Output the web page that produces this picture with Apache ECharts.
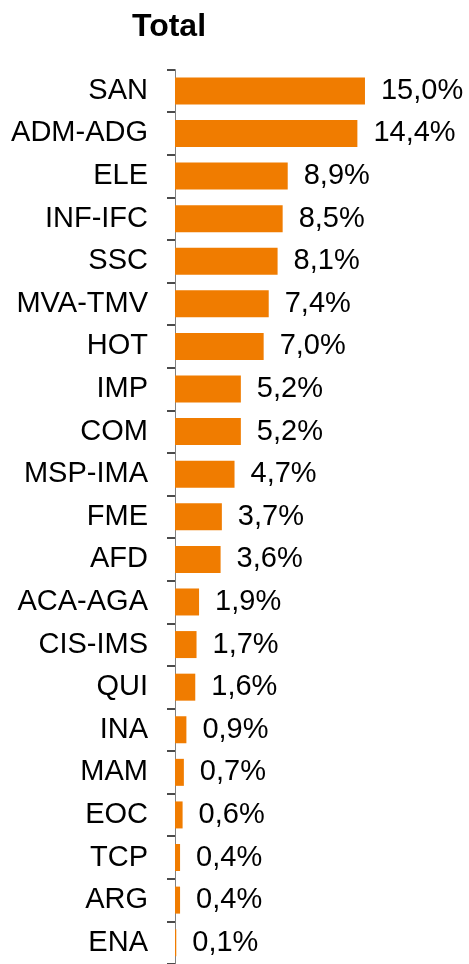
<!DOCTYPE html>
<html>
<head>
<meta charset="utf-8">
<script src="https://cdn.jsdelivr.net/npm/echarts@6/dist/echarts.min.js"></script>
<style>
  html, body { margin: 0; padding: 0; background: #fff; }
  #chart { width: 469px; height: 964px; }
</style>
</head>
<body>
<div id="chart"></div>
<script>
// categories, top to bottom
var categories = ['SAN', 'ADM-ADG', 'ELE', 'INF-IFC', 'SSC', 'MVA-TMV', 'HOT', 'IMP', 'COM', 'MSP-IMA',
  'FME', 'AFD', 'ACA-AGA', 'CIS-IMS', 'QUI', 'INA', 'MAM', 'EOC', 'TCP', 'ARG', 'ENA'];
// share in percent
var values = [15.0, 14.4, 8.9, 8.5, 8.1, 7.4, 7.0, 5.2, 5.2, 4.7,
  3.7, 3.6, 1.9, 1.7, 1.6, 0.9, 0.7, 0.6, 0.4, 0.4, 0.1];

var font = 'Liberation Sans, Arial, sans-serif';
var myChart = echarts.init(document.getElementById('chart'));

myChart.setOption({
  animation: false,
  title: {
    text: 'Total',
    left: 164,
    top: 6,
    textAlign: 'center',
    textStyle: { fontFamily: font, fontSize: 32, fontWeight: 'bold', color: '#000' }
  },
  grid: { left: 175, top: 69.6, width: 253.3, height: 897.75 },
  xAxis: {
    type: 'value',
    min: 0,
    max: 20,
    show: false
  },
  yAxis: {
    type: 'category',
    data: categories,
    inverse: true,
    axisLine: { show: true, lineStyle: { color: '#808080', width: 1 } },
    axisTick: { show: true, inside: false, interval: 0, length: 8, lineStyle: { color: '#111111', width: 1.5 } },
    axisLabel: { margin: 27, interval: 0, fontFamily: font, fontSize: 29, color: '#000' }
  },
  series: [{
    type: 'bar',
    data: values,
    barWidth: 27,
    itemStyle: { color: '#F07C00' },
    label: {
      show: true,
      position: 'right',
      distance: 16,
      fontFamily: font,
      fontSize: 29,
      color: '#000',
      formatter: function (p) { return p.value.toFixed(1).replace('.', ',') + '%'; }
    }
  }]
});
</script>
</body>
</html>
